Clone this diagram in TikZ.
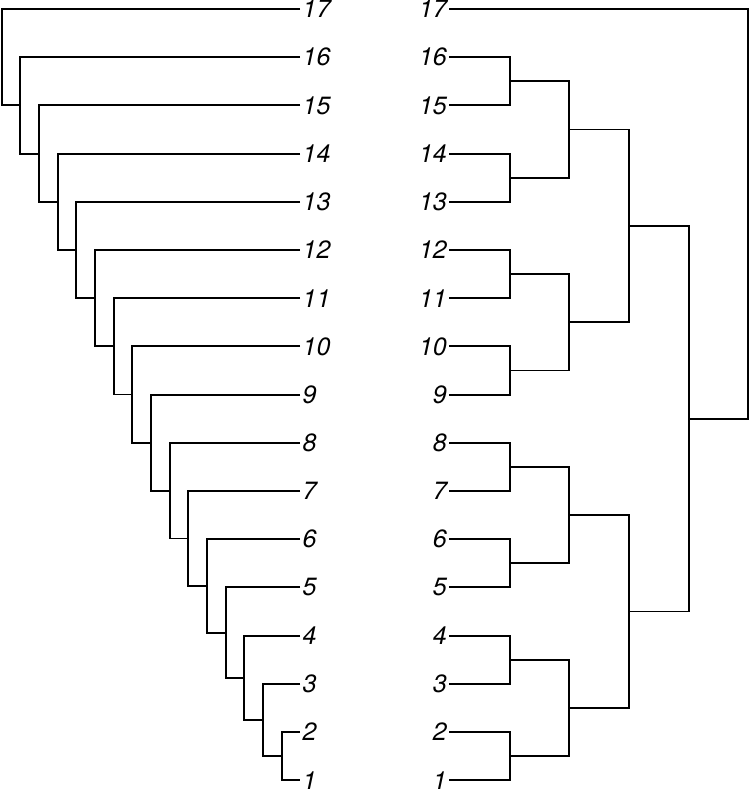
\documentclass[tikz,border=0pt]{standalone}
\usepackage{fontspec}
\setmainfont{TeX Gyre Heros}
\usetikzlibrary{calc}
\begin{document}
\begin{tikzpicture}[x=1pt,y=-1pt,
  br/.style={line width=1.9pt, line join=miter, black},
  lab/.style={inner sep=0pt, font=\fontsize{25}{25}\selectfont\itshape}]
\useasboundingbox (0,0) rectangle (750,791);
% leaf y positions
\foreach \k in {1,...,17}{
  \pgfmathsetmacro{\yy}{780.2-(\k-1)*48.2}
  \coordinate (L\k) at (300,\yy);
  \coordinate (R\k) at (449.3,\yy);
  \node[lab, anchor=west] (t\k) at (302.5,\yy) {\k};
  \node[lab, anchor=east] (u\k) at (447,\yy) {\k};
}
% left tree (caterpillar)
\coordinate (n1) at (L1);
\foreach \k [remember=\k as \p (initially 1)] in {2,...,17}{
  \pgfmathsetmacro{\xx}{281.7-(\k-2)*18.67}
  \coordinate (m\k) at ($(L\k)!0.5!(n\p)$);
  \coordinate (n\k) at (\xx,0 |- m\k);
  \draw[br] (L\k) -| (n\k |- n\p) -- (n\p);
}
% right tree
\foreach \a/\b/\c in {16/15/8,14/13/7,12/11/6,10/9/5,8/7/4,6/5/3,4/3/2,2/1/1}{
  \coordinate (mm\c) at ($(R\a)!0.5!(R\b)$);
  \coordinate (p\c) at (510,0 |- mm\c);
  \draw[br] (R\a) -| (p\c |- R\b) -- (R\b);
}
\foreach \a/\b/\c in {8/7/4,6/5/3,4/3/2,2/1/1}{
  \coordinate (qq\c) at ($(p\a)!0.5!(p\b)$);
  \coordinate (q\c) at (569.3,0 |- qq\c);
  \draw[br] (p\a) -| (q\c |- p\b) -- (p\b);
}
\foreach \a/\b/\c in {4/3/2,2/1/1}{
  \coordinate (rr\c) at ($(q\a)!0.5!(q\b)$);
  \coordinate (r\c) at (629.3,0 |- rr\c);
  \draw[br] (q\a) -| (r\c |- q\b) -- (q\b);
}
\coordinate (ss) at ($(r2)!0.5!(r1)$);
\coordinate (s) at (689,0 |- ss);
\draw[br] (r2) -| (s |- r1) -- (r1);
\coordinate (rootm) at ($(R17)!0.5!(s)$);
\coordinate (root) at (748.3,0 |- rootm);
\draw[br] (R17) -| (root |- s) -- (s);
\end{tikzpicture}
\end{document}
